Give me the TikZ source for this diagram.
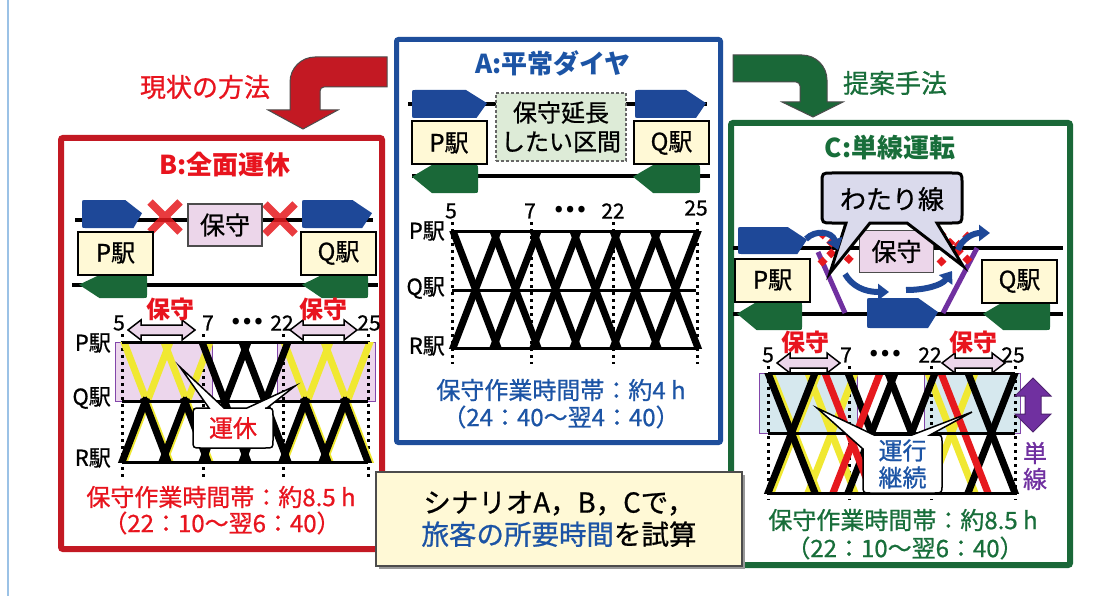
\documentclass[tikz,border=0pt]{standalone}
\usepackage{fontspec}
\setmainfont{Noto Sans CJK JP}
\newfontfamily\medfont{Noto Sans CJK JP}[FakeBold=0.8]
\usetikzlibrary{arrows.meta}

\definecolor{frameblue}{RGB}{30,78,155}
\definecolor{txtblue}{RGB}{28,84,165}
\definecolor{trainblue}{RGB}{30,72,152}
\definecolor{framered}{RGB}{195,25,35}
\definecolor{txtred}{RGB}{232,20,30}
\definecolor{framegreen}{RGB}{26,104,56}
\definecolor{txtgreen}{RGB}{24,110,58}
\definecolor{traingreen}{RGB}{26,104,56}
\definecolor{cream}{RGB}{255,249,214}
\definecolor{pinkfill}{RGB}{236,214,234}
\definecolor{zonepink}{RGB}{236,214,236}
\definecolor{zoneblue}{RGB}{214,232,238}
\definecolor{zoneedge}{RGB}{130,70,170}
\definecolor{mintfill}{RGB}{221,235,215}
\definecolor{lavender}{RGB}{218,218,236}
\definecolor{cxpurple}{RGB}{112,48,160}
\definecolor{cyellow}{RGB}{240,232,50}
\definecolor{cred}{RGB}{230,25,30}
\definecolor{edgeblue}{RGB}{155,194,230}

\tikzset{
  ttl/.style={font=\fontsize{26}{30}\selectfont\bfseries},
  bigtxt/.style={font=\medfont\fontsize{26}{30}\selectfont},
  lbl/.style={font=\medfont\fontsize{24}{28}\selectfont},
  numlbl/.style={font=\medfont\fontsize{21}{24}\selectfont},
  dotslbl/.style={font=\bfseries\fontsize{30}{30}\selectfont},
  stalbl/.style={font=\medfont\fontsize{22}{26}\selectfont, anchor=east, inner sep=1},
  stbox/.style={draw=black, line width=2, fill=cream, minimum width=75, minimum height=43, inner sep=0, font=\medfont\fontsize{24}{28}\selectfont},
  maintbox/.style={draw=black!70, line width=1.5, fill=pinkfill, minimum width=74, minimum height=42, inner sep=0, font=\medfont\fontsize{25}{28}\selectfont},
  track/.style={line width=3.5},
  tline/.style={line width=7, line cap=rect},
  dotv/.style={line width=3, dash pattern=on 3 off 4},
  stline/.style={line width=3},
  zone/.style={draw=zoneedge, line width=0.8},
  darrow/.style={fill=pinkfill, draw=black, line width=1.5},
  bluearr/.style={draw=trainblue, line width=6, -{Triangle[width=16,length=11]}},
  cross/.style={cred, line width=7.5, opacity=.85},
  dashcross/.style={cred, line width=7, dash pattern=on 7 off 5},
}

% two-headed span arrow: left x, right x, centre y
\newcommand\maintspan[3]{%
  \filldraw[darrow] (#1,#3) -- (#1+13,#3-10) -- (#1+13,#3-5) -- (#2-13,#3-5) -- (#2-13,#3-10) -- (#2,#3) -- (#2-13,#3+10) -- (#2-13,#3+5) -- (#1+13,#3+5) -- (#1+13,#3+10) -- cycle;}
% train heading right: colour, x0, y0, x1, y1
\newcommand\trainfwd[5]{%
  \fill[#1] ({#2+3},#3) -- ({#2+0.72*(#4-#2)},#3) -- (#4,{#3+0.47*(#5-#3)}) -- ({#2+0.86*(#4-#2)},#5) -- ({#2+3},#5) .. controls (#2,#5) .. (#2,{#5-3}) -- (#2,{#3+3}) .. controls (#2,#3) .. ({#2+3},#3) -- cycle;}
% train heading left: colour, x0, y0, x1, y1
\newcommand\trainbwd[5]{%
  \fill[#1] ({#4-3},#3) -- ({#2+0.3*(#4-#2)},#3) -- (#2,{#3+0.42*(#5-#3)}) -- ({#2+0.3*(#4-#2)},#5) -- ({#4-3},#5) .. controls (#4,#5) .. (#4,{#5-3}) -- (#4,{#3+3}) .. controls (#4,#3) .. ({#4-3},#3) -- cycle;}

\begin{document}
\begin{tikzpicture}[x=1pt,y=-1pt]
\fill[white] (0,0) rectangle (1110,596);
\useasboundingbox (0,0) rectangle (1110,596);
\draw[edgeblue, line width=1.5] (8,0) -- (8,596);

% ---- bent arrows ----
\filldraw[fill=framered, draw=black!70, line width=1] (387,57) -- (315,57) .. controls (301.2,57) and (290,68.2) .. (290,82) -- (290,110) -- (268,110) -- (303,129) -- (338,110) -- (320,110) -- (320,91) .. controls (320,88.8) and (321.8,87) .. (324,87) -- (387,87) -- cycle;
\node[bigtxt, txtred] (curlbl) at (205,87) {現状の方法};
\filldraw[fill=framegreen, draw=black!70, line width=1] (733,55) -- (802,55) .. controls (815.8,55) and (827,66.2) .. (827,80) -- (827,102) -- (843,102) -- (813,117) -- (782,102) -- (800,102) -- (800,86) .. controls (800,83.8) and (798.2,82) .. (796,82) -- (733,82) -- cycle;
\node[bigtxt, txtgreen] (proplbl) at (895,83) {提案手法};

% ================= A =================
\draw[frameblue, line width=5, fill=white, rounded corners=2] (396.5,39.5) rectangle (720.5,442.5);
\node[ttl, txtblue] (atitle) at (553,63) {A:平常ダイヤ};
\draw[track] (408,104) -- (707,104);
\draw[track] (412,176) -- (710,176);
\trainfwd{trainblue}{412}{90}{487}{118}
\trainfwd{trainblue}{635}{90}{706}{118}
\trainbwd{traingreen}{412}{165}{478}{193}
\trainbwd{traingreen}{633}{165}{700}{193}
\node[draw=black!60, line width=1.2, dash pattern=on 3 off 2, fill=mintfill, minimum width=130, minimum height=68, inner sep=0, align=center, font=\medfont\fontsize{24}{29}\selectfont] (aext) at (561,127) {保守延長\\したい区間};
\node[stbox] (aP) at (449,143) {P駅};
\node[stbox] (aQ) at (671.5,143) {Q駅};

\foreach \x in {452,531,613,697} \draw[dotv] (\x,222) -- (\x,364);
\begin{scope}
\clip (440,231) rectangle (710,348);
\foreach \k in {0,...,5}{
  \draw[tline] ({453+40*\k},231) -- ({498+40*\k},348);
  \draw[tline] ({453+40*\k},348) -- ({498+40*\k},231);
}
\end{scope}
\foreach \y in {231,290,348} \draw[stline] (452,\y) -- (696,\y);
\node[stalbl] (aPl) at (446,231) {P駅};
\node[stalbl] (aQl) at (446,288) {Q駅};
\node[stalbl] (aRl) at (446,346) {R駅};
\node[numlbl] (a5) at (451,211) {5};
\node[numlbl] (a7) at (530,211) {7};
\node[dotslbl] (adots) at (570,210) {…};
\node[numlbl] (a22) at (613,211) {22};
\node[numlbl] (a25) at (696,208) {25};
\node[lbl, txtblue] (atime) at (561,390) {保守作業時間帯：約4 h};
\node[lbl, txtblue] (aspan) at (561,417) {（24：40～翌4：40）};

% ================= B =================
\draw[framered, line width=6, fill=white, rounded corners=2] (61,138) rectangle (382,549);
\node[ttl, txtred] (btitle) at (225,165) {B:全面運休};
\draw[track] (75,220) -- (373,220);
\draw[track] (72,285) -- (378,285);
\trainfwd{trainblue}{82}{200}{142}{228}
\trainfwd{trainblue}{302}{200}{372}{228}
\trainbwd{traingreen}{79}{275}{147}{298}
\trainbwd{traingreen}{302}{275}{368}{298}
\draw[cross] (150,202) -- (180,232) (150,232) -- (180,202);
\draw[cross] (265,204) -- (295,234) (265,234) -- (295,204);
\node[maintbox] (bmaint) at (225,225) {保守};
\node[stbox] (bP) at (115.5,253) {P駅};
\node[stbox] (bQ) at (338.5,253) {Q駅};

\fill[zonepink] (115,342) rectangle (212,401);
\fill[zonepink] (277,342) rectangle (375,401);
\draw[zone] (115,342) rectangle (212,401);
\draw[zone] (277,342) rectangle (375,401);
\foreach \x in {122,203,283,368} \draw[dotv] (\x,334) -- (\x,478);
\begin{scope}
\clip (100,342) rectangle (380,462);
\foreach \k in {0,1,4,5}{
  \draw[tline, cyellow] ({124+40*\k},342) -- ({170+40*\k},462);
  \draw[tline, cyellow] ({124+40*\k},462) -- ({170+40*\k},342);
}
\foreach \k in {0,1,4,5}{
  \draw[tline] ({144.6+40*\k},401) -- ({168+40*\k},462);
  \draw[tline] ({122+40*\k},462) -- ({145.4+40*\k},401);
}
\foreach \k in {2,3}{
  \draw[tline] ({122+40*\k},342) -- ({168+40*\k},462);
  \draw[tline] ({122+40*\k},462) -- ({168+40*\k},342);
}
\end{scope}
\foreach \y in {342,401,462} \draw[stline] (122,\y) -- (368,\y);
\node[stalbl] (bPl) at (112,343) {P駅};
\node[stalbl] (bQl) at (112,398) {Q駅};
\node[stalbl] (bRl) at (112,458) {R駅};
\node[numlbl] (b5) at (119,323) {5};
\node[numlbl] (b7) at (208,323) {7};
\node[dotslbl] (bdots) at (247,322) {…};
\node[numlbl] (b22) at (282,323) {22};
\node[numlbl] (b25) at (369,323) {25};
\maintspan{128}{195}{330}
\maintspan{290}{357}{330}
\node[txtred, font=\fontsize{24}{28}\selectfont\bfseries] (bm1) at (170,309) {保守};
\node[txtred, font=\fontsize{24}{28}\selectfont\bfseries] (bm2) at (323,309) {保守};
\filldraw[fill=white, draw=black, line width=1.5] (201,408) -- (209,408) -- (180,367) -- (224,408) -- (247,408) -- (295,386) -- (267,408) -- (265,408) .. controls (273,408) .. (273,416) -- (273,440) .. controls (273,448) .. (265,448) -- (201,448) .. controls (193,448) .. (193,440) -- (193,416) .. controls (193,408) .. (201,408) -- cycle;
\node[lbl, txtred] (bstop) at (233,428) {運休};
\node[lbl, txtred] (btime) at (221,497) {保守作業時間帯：約8.5 h};
\node[lbl, txtred] (bspan) at (222,523) {（22：10～翌6：40）};

% ================= C =================
\draw[framegreen, line width=6, fill=white, rounded corners=2] (731,123) rectangle (1070,565);
\node[ttl, txtgreen] (ctitle) at (890,148) {C:単線運転};
\draw[track] (733,248) -- (1063,248);
\draw[track] (733,314) -- (1063,314);
\trainfwd{trainblue}{738}{227}{807}{254}
\trainfwd{trainblue}{867}{298}{938}{328}
\trainbwd{traingreen}{737}{302}{802}{330}
\trainbwd{traingreen}{983}{302}{1050}{330}
\draw[cxpurple, line width=5] (818,252) -- (845,313);
\draw[cxpurple, line width=5] (977,248) -- (943,313);
\draw[dashcross] (820,232) -- (854,264) (820,264) -- (854,232);
\draw[dashcross] (939,232) -- (972,264) (939,264) -- (972,232);
\node[maintbox] (cmaint) at (896.5,251.5) {保守};
\node[stbox] (cP) at (772.5,280) {P駅};
\node[stbox] (cQ) at (1019.5,281) {Q駅};
\filldraw[fill=lavender, draw=black, line width=3] (832,173) -- (952,173) .. controls (962,173) .. (962,183) -- (962,213) .. controls (962,223) .. (952,223) -- (937,223) -- (963,266) -- (907,223) -- (870,223) -- (830,273) -- (846,223) -- (832,223) .. controls (822,223) .. (822,213) -- (822,183) .. controls (822,173) .. (832,173) -- cycle;
\node[font=\medfont\fontsize{26}{30}\selectfont] (cwat) at (892,199) {わたり線};
\draw[bluearr] (806,239) .. controls (816,229) and (832,232) .. (838,250);
\draw[bluearr] (845,274) .. controls (852,286) and (864,292) .. (889,292);
\draw[bluearr] (906,290) .. controls (926,290) and (942,285) .. (952,271);
\draw[bluearr] (958,250) .. controls (962,238) and (974,233) .. (990,233);

\fill[zoneblue] (759,373) rectangle (857,433);
\fill[zoneblue] (924,373) rectangle (1020,433);
\draw[zone] (759,373) rectangle (857,433);
\draw[zone] (924,373) rectangle (1020,433);
\foreach \x in {768,849,931,1015} \draw[dotv] (\x,366) -- (\x,500);
\begin{scope}
\clip (740,373) rectangle (1030,493);
\draw[tline, cyellow] (771,373) -- (818,493);
\draw[tline, cyellow] (771,493) -- (818,373);
\foreach \s in {808,928}{
  \draw[tline, cyellow] (\s,373) -- ({\s+47},493);
  \draw[tline, cyellow] (\s,493) -- ({\s+47},373);
}
\foreach \s in {768,848,888,968}{
  \draw[tline] (\s,373) -- ({\s+47},493);
  \draw[tline] (\s,493) -- ({\s+47},373);
}
\draw[tline, cred] (825,373) -- (872,493);
\draw[tline, cred] (833,493) -- (880,373);
\draw[tline, cred] (941,373) -- (988,493);
\end{scope}
\foreach \y in {373,433,493} \draw[stline] (768,\y) -- (1015,\y);
\node[numlbl] (c5) at (768,355) {5};
\node[numlbl] (c7) at (846,355) {7};
\node[dotslbl] (cdots) at (885,354) {…};
\node[numlbl] (c22) at (930,355) {22};
\node[numlbl] (c25) at (1013,355) {25};
\maintspan{777}{840}{363}
\maintspan{942}{1005}{363}
\node[txtred, font=\fontsize{24}{28}\selectfont\bfseries] (cm1) at (805,342) {保守};
\node[txtred, font=\fontsize{24}{28}\selectfont\bfseries] (cm2) at (973,342) {保守};
\filldraw[fill=white, draw=black, line width=1.5] (874,435) -- (912,435) -- (972,412) -- (930,435) -- (934,435) .. controls (942,435) .. (942,443) -- (942,485) .. controls (942,493) .. (934,493) -- (871,493) .. controls (863,493) .. (863,485) -- (863,449) -- (817,408) -- cycle;
\node[txtblue, align=center, font=\medfont\fontsize{24}{27}\selectfont] (crun) at (902.5,464) {運行\\継続};
\filldraw[fill=cxpurple, draw=cxpurple!70!black, line width=1] (1033,378) -- (1051,396) -- (1041,396) -- (1041,414) -- (1051,414) -- (1033,432) -- (1015,414) -- (1025,414) -- (1025,396) -- (1015,396) -- cycle;
\node[cxpurple, align=center, font=\medfont\fontsize{24}{26}\selectfont] (csingle) at (1035,466) {単\\線};
\node[lbl, txtgreen] (ctime) at (903,520) {保守作業時間帯：約8.5 h};
\node[lbl, txtgreen] (cspan) at (905,548) {（22：10～翌6：40）};

% ================= summary box =================
\fill[black!40] (379,475) rectangle (745,569);
\node[draw=black!70, line width=1.5, fill=cream, minimum width=366, minimum height=94, inner sep=0, align=center, font=\medfont\fontsize{27.5}{32}\selectfont] (summary) at (559,519) {シナリオA，B，Cで，\\{\color{txtblue}旅客の所要時間}を試算};
\end{tikzpicture}
\end{document}
